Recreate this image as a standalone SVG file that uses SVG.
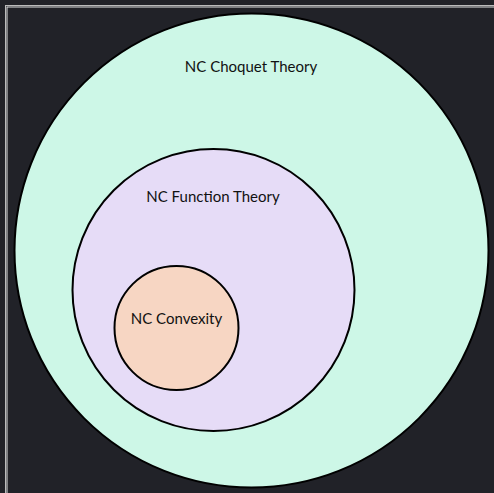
<svg xmlns="http://www.w3.org/2000/svg" width="494" height="493" viewBox="0 0 494 493">
<style>
.n{stroke:#000;stroke-width:2}
.t{font-family:Lato,"Noto Sans",sans-serif;font-size:15px;fill:#111;text-anchor:middle}
</style>
<rect x="0" y="0" width="494" height="493" fill="#212228"/>
<rect x="5.5" y="5.5" width="500" height="500" fill="none" stroke="#bbbbbb" stroke-width="1"/>
<rect x="7" y="7" width="500" height="500" fill="none" stroke="#e0e0e0" stroke-width="1"/>
<g id="choquet">
<circle class="n" cx="251.5" cy="250.5" r="237" fill="#cdf7e7"/>
<text class="t" x="251" y="72">NC Choquet Theory</text>
</g>
<g id="function">
<circle class="n" cx="213.5" cy="290" r="141" fill="#e6dcf7"/>
<text class="t" x="213" y="202">NC Function Theory</text>
</g>
<g id="convexity">
<circle class="n" cx="176.5" cy="328" r="62" fill="#f7d6c3"/>
<text class="t" x="176.5" y="324">NC Convexity</text>
</g>
<g id="connectors"/>
</svg>
